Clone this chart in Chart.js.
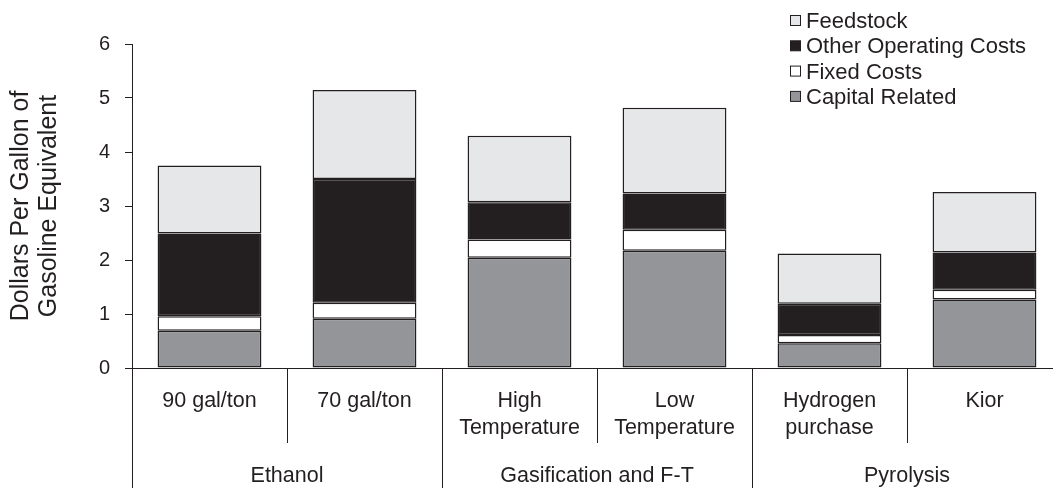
<!DOCTYPE html>
<html>
<head>
<meta charset="utf-8">
<script src="https://cdn.jsdelivr.net/npm/chart.js@4.4.1/dist/chart.umd.min.js"></script>
<style>
  html, body { margin: 0; padding: 0; background: #fff; overflow: hidden; }
  #wrap { width: 1062px; height: 488px; }
</style>
</head>
<body>
<div id="wrap"><canvas id="costChart" width="1062" height="488"></canvas></div>
<script>
// categories (two-level x axis)
const categories = [["90 gal/ton"], ["70 gal/ton"], ["High", "Temperature"], ["Low", "Temperature"], ["Hydrogen", "purchase"], ["Kior"]];
const groups = ["Ethanol", "Gasification and F-T", "Pyrolysis"];
const groupSizes = [2, 2, 2];

// series, $ per gallon of gasoline equivalent (stack bottom -> top)
const capitalRelated = [0.69, 0.91, 2.04, 2.17, 0.46, 1.27];
const fixedCosts     = [0.27, 0.30, 0.34, 0.39, 0.15, 0.18];
const otherOperating = [1.53, 2.29, 0.69, 0.67, 0.58, 0.69];
const feedstock      = [1.26, 1.65, 1.23, 1.59, 0.93, 1.12];

const yTicks = [0, 1, 2, 3, 4, 5, 6];

const ink = "#231f20";
const fontFamily = "'Liberation Sans', Arial, Helvetica, sans-serif";

// draws the grouped category labels under the axis
const multiLevelAxis = {
  id: "multiLevelAxis",
  afterDraw(chart) {
    const ctx = chart.ctx;
    const x = chart.scales.x;
    const bottom = x.top;
    const step = (x.right - x.left) / categories.length;

    ctx.save();
    ctx.strokeStyle = ink;
    ctx.lineWidth = 1;
    ctx.fillStyle = ink;
    ctx.font = "21.5px " + fontFamily;
    ctx.textAlign = "center";
    ctx.textBaseline = "middle";

    // divider lines
    let groupEdges = [0];
    groupSizes.reduce((acc, n) => { groupEdges.push(acc + n); return acc + n; }, 0);
    for (let i = 0; i <= categories.length; i++) {
      const px = Math.round(x.left + i * step) + 0.5;
      const isGroupEdge = groupEdges.includes(i);
      ctx.beginPath();
      ctx.moveTo(px, bottom);
      ctx.lineTo(px, isGroupEdge ? chart.height : bottom + 75);
      ctx.stroke();
    }

    // sub category labels
    categories.forEach((lines, i) => {
      const cx = x.getPixelForValue(i);
      lines.forEach((t, j) => ctx.fillText(t, cx, bottom + 33 + j * 27));
    });

    // group labels
    let start = 0;
    groups.forEach((g, gi) => {
      const n = groupSizes[gi];
      const cx = x.left + (start + n / 2) * step;
      ctx.fillText(g, cx, bottom + 108);
      start += n;
    });
    ctx.restore();
  }
};

// legend in the top right, listed top of stack first
const cornerLegend = {
  id: "cornerLegend",
  afterDraw(chart) {
    const ctx = chart.ctx;
    const sets = chart.data.datasets.slice().reverse();
    ctx.save();
    ctx.font = "22px " + fontFamily;
    ctx.textBaseline = "middle";
    ctx.textAlign = "left";
    sets.forEach((ds, i) => {
      const y = 21 + i * 25.3;
      ctx.fillStyle = ds.backgroundColor;
      ctx.fillRect(790.5, y - 5.5, 10, 10);
      ctx.strokeStyle = ink;
      ctx.lineWidth = 1;
      ctx.strokeRect(790.5, y - 5.5, 10, 10);
      ctx.fillStyle = ink;
      ctx.fillText(ds.label, 806, y + 1);
    });
    ctx.restore();
  }
};

const barStyle = {
  borderColor: ink,
  borderWidth: 1.5,
  borderSkipped: false,
  barPercentage: 0.67,
  categoryPercentage: 1.0
};

new Chart(document.getElementById("costChart"), {
  type: "bar",
  data: {
    labels: categories.map(c => c.join(" ")),
    datasets: [
      { label: "Capital Related", data: capitalRelated, backgroundColor: "#939598", ...barStyle },
      { label: "Fixed Costs", data: fixedCosts, backgroundColor: "#ffffff", ...barStyle },
      { label: "Other Operating Costs", data: otherOperating, backgroundColor: "#231f20", ...barStyle },
      { label: "Feedstock", data: feedstock, backgroundColor: "#e6e7e8", ...barStyle }
    ]
  },
  options: {
    responsive: false,
    animation: false,
    layout: { padding: { top: 44, right: 0, bottom: 0, left: 0 } },
    plugins: {
      legend: { display: false },
      tooltip: { enabled: false }
    },
    scales: {
      x: {
        stacked: true,
        ticks: { display: false },
        grid: { display: false },
        border: { display: true, color: ink, width: 1 },
        afterFit(scale) { scale.height = 120; }
      },
      y: {
        stacked: true,
        min: 0,
        max: 6,
        afterBuildTicks(scale) { scale.ticks = yTicks.map(v => ({ value: v })); },
        ticks: { color: ink, font: { family: fontFamily, size: 20 }, padding: 15 },
        grid: { drawOnChartArea: false, drawTicks: true, tickLength: 7, color: ink },
        border: { display: true, color: ink, width: 1 },
        title: {
          display: true,
          text: ["Dollars Per Gallon of", "Gasoline Equivalent"],
          color: ink,
          font: { family: fontFamily, size: 25, lineHeight: 1.12 },
          padding: { top: 7, bottom: 0 }
        },
        afterFit(scale) { scale.width = 132; }
      }
    }
  },
  plugins: [multiLevelAxis, cornerLegend]
});
</script>
</body>
</html>
